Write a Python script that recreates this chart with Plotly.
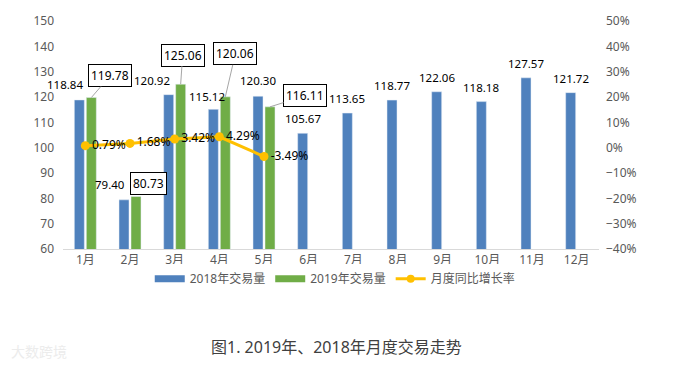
import plotly.graph_objects as go

months = ["1月", "2月", "3月", "4月", "5月", "6月", "7月", "8月", "9月", "10月", "11月", "12月"]
vol_2018 = [118.84, 79.40, 120.92, 115.12, 120.30, 105.67, 113.65, 118.77, 122.06, 118.18, 127.57, 121.72]
vol_2019 = [119.78, 80.73, 125.06, 120.06, 116.11]
growth = [0.0079, 0.0168, 0.0342, 0.0429, -0.0349]
growth_labels = ["0.79%", "1.68%", "3.42%", "4.29%", "-3.49%"]

BLUE = "#4F81BD"
GREEN = "#70AD47"
GOLD = "#FFC000"
FONT = "Noto Sans, Noto Sans CJK SC, sans-serif"
GRAY = "#595959"

fig = go.Figure()
fig.add_trace(go.Bar(x=months, y=vol_2018, marker_color=BLUE, name="2018年交易量", showlegend=False))
fig.add_trace(go.Bar(x=months[:len(vol_2019)], y=vol_2019, marker_color=GREEN, name="2019年交易量", showlegend=False))
fig.add_trace(go.Scatter(
    x=months[:len(growth)], y=growth, yaxis="y2", mode="lines+markers+text",
    line=dict(color=GOLD, width=3), marker=dict(size=9, color=GOLD),
    text=growth_labels, textposition="middle right",
    textfont=dict(size=12, color="black", family=FONT),
    name="月度同比增长率", showlegend=False))

# legend entries (wide swatches like the original)
fig.add_trace(go.Scatter(x=[None], y=[None], mode="lines", line=dict(color=BLUE, width=7), name="2018年交易量"))
fig.add_trace(go.Scatter(x=[None], y=[None], mode="lines", line=dict(color=GREEN, width=7), name="2019年交易量"))
fig.add_trace(go.Scatter(x=[None], y=[None], yaxis="y2", mode="lines+markers",
                         line=dict(color=GOLD, width=3), marker=dict(size=8, color=GOLD), name="月度同比增长率"))

annotations = []
# 2018 labels (plain)
special_2018 = {0: (-20, 15), 1: (-20, 15), 2: (-23, 14.6), 3: (-12, 13.3), 4: (-6, 16)}
for i, (m, v) in enumerate(zip(months, vol_2018)):
    dx, dy = special_2018.get(i, (-6, 14.5))
    annotations.append(dict(x=m, y=v, text=f"{v:.2f}", showarrow=False, xshift=dx, yshift=dy,
                            font=dict(size=11.5, color="black", family=FONT)))
# 2019 labels (boxed callouts)
callouts = {0: (19, -22), 2: (2, -29), 3: (10, -43), 4: (35, -11)}
for i, (m, v) in enumerate(zip(months, vol_2019)):
    common = dict(x=m, y=v, text=f"{v:.2f}", bordercolor="black", borderwidth=1, borderpad=2,
                  bgcolor="white", font=dict(size=12, color="black", family=FONT))
    if i in callouts:
        ax, ay = callouts[i]
        annotations.append(dict(**common, showarrow=True, arrowhead=0, arrowwidth=1,
                                arrowcolor="#a6a6a6", ax=ax, ay=ay, xshift=6))
    else:
        annotations.append(dict(**common, showarrow=False, xshift=18, yshift=13))

annotations.append(dict(xref="paper", yref="paper", x=0.51, y=-0.432, xanchor="center", yanchor="middle",
                        text="图1. 2019年、2018年月度交易走势",
                        showarrow=False, font=dict(size=16, color="#404040", family=FONT)))
annotations.append(dict(xref="paper", yref="paper", x=-0.045, y=-0.45, xanchor="center", yanchor="middle",
                        text="大数跨境", showarrow=False, font=dict(size=14, color="#ececec", family=FONT)))

fig.update_layout(
    width=677, height=365,
    margin=dict(l=63, r=78, t=21, b=116),
    paper_bgcolor="white", plot_bgcolor="white",
    barmode="group", bargap=0.463, bargroupgap=0.167,
    font=dict(family=FONT, color=GRAY, size=12),
    xaxis=dict(type="category", range=[-0.5, 11.5], showgrid=False, showline=True,
               linecolor="#d9d9d9", linewidth=1, ticks="", tickfont=dict(size=12, color=GRAY)),
    yaxis=dict(range=[60, 150], dtick=10, showgrid=False, zeroline=False, showline=False,
               ticks="", ticklabelstandoff=8, tickfont=dict(size=12, color=GRAY)),
    yaxis2=dict(range=[-0.4, 0.5], dtick=0.1, tickformat=".0%", overlaying="y", side="right",
                showgrid=False, zeroline=False, showline=False, ticks="", ticklabelstandoff=6,
                tickfont=dict(size=12, color=GRAY)),
    legend=dict(orientation="h", x=0.507, xanchor="center", y=-0.13, yanchor="middle",
                font=dict(size=12, color=GRAY), itemwidth=30, tracegroupgap=0),
    annotations=annotations,
)

fig.write_html("out.html", config={"displayModeBar": False},
               post_script="document.body.style.margin='0';")
